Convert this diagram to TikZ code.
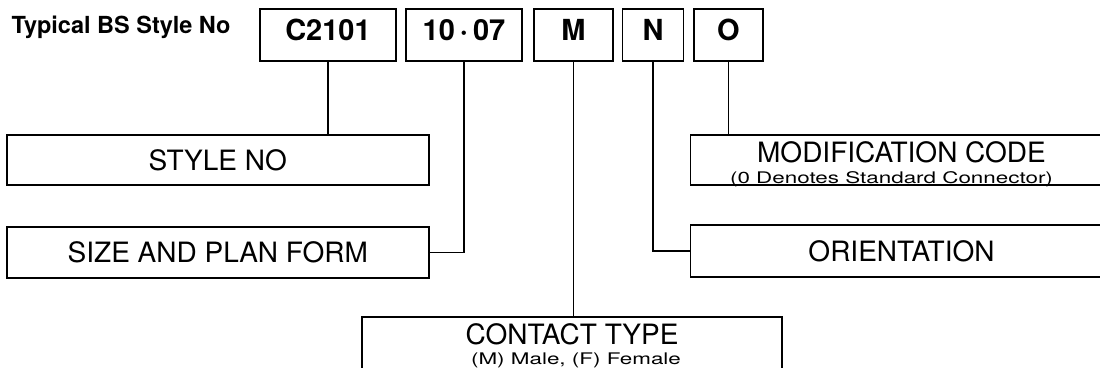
\documentclass[tikz,border=0pt]{standalone}
\usepackage{fontspec}
\setmainfont{TeX Gyre Heros}
\usepackage{graphicx}
\usepackage{tikz}

\begin{document}
\begin{tikzpicture}[x=1pt, y=-1pt,
    % Styles
    codebox/.style={
        draw,
        line width=1.8pt,
        inner sep=2pt,
        text height=29pt,
        text depth=19pt,
        font=\bfseries\fontsize{29}{29}\selectfont
    },
    fieldbox/.style={
        draw,
        line width=1.8pt,
        minimum width=422pt,
        minimum height=50pt,
        font=\fontsize{28}{28}\selectfont
    },
    tallfield/.style={
        fieldbox,
        inner sep=0pt,
        text height=27pt,
        text depth=23pt
    },
    note/.style={
        anchor=base,
        font=\fontsize{16}{16}\selectfont
    },
    link/.style={line width=1.5pt}
]
\useasboundingbox (0,0) rectangle (1100,367);

% Style number
\node[anchor=base, font=\bfseries\fontsize{23.5}{23.5}\selectfont] (title) at (121,33.5) {Typical BS Style No};

\node[codebox, minimum width=136pt] (stylecode) at (328,35) {C2101};
\node[codebox, minimum width=116pt] (sizecode) at (464,35) {10\kern5pt·\kern5pt07};
\node[codebox, minimum width=79pt] (contactcode) at (573.4,35) {M};
\node[codebox, minimum width=61pt] (orientcode) at (653,35) {N};
\node[codebox, minimum width=69pt] (modcode) at (728.4,35) {O};

% Fields on the left
\node[fieldbox] (stylebox) at (217.75,160) {STYLE NO};
\node[fieldbox, minimum height=51pt] (sizebox) at (217.75,252.5) {SIZE AND PLAN FORM};

% Fields on the right
\node[tallfield] (modbox) at (901.5,160) {MODIFICATION CODE};
\node[note] (modnote) at (891.5,183) {\scalebox{1.4}[1]{(0 Denotes Standard Connector)}};
\node[fieldbox, minimum height=52pt] (orientbox) at (901.5,251) {ORIENTATION};

% Contact type
\node[tallfield, minimum width=420pt, text depth=53pt] (contactbox) at (572,357) {CONTACT TYPE};
\node[note] (contactnote) at (576,364) {\scalebox{1.4}[1]{(M) Male, (F) Female}};

% Connectors
\draw[link] (stylecode.south) -- (stylecode.south |- stylebox.north);
\draw[link] (sizecode.south) |- (sizebox.east);
\draw[link] (contactcode.south) -- (contactcode.south |- contactbox.north);
\draw[link] (orientcode.south) |- (orientbox.west);
\draw[link] (modcode.south) -- (modcode.south |- modbox.north);

\end{tikzpicture}
\end{document}
